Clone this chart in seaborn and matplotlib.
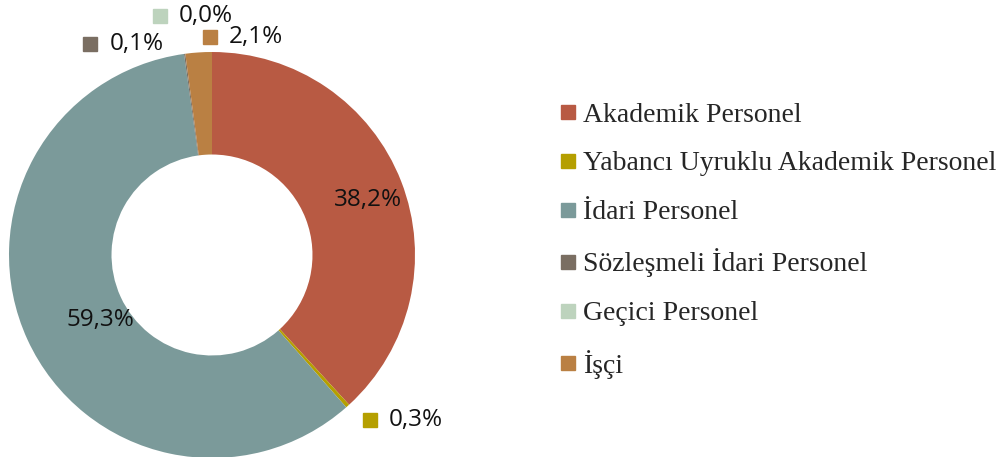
import numpy as np
import matplotlib.pyplot as plt
import seaborn as sns
from matplotlib.lines import Line2D

categories = ['Akademik Personel', 'Yabancı Uyruklu Akademik Personel', 'İdari Personel',
              'Sözleşmeli İdari Personel', 'Geçici Personel', 'İşçi']
values = [38.2, 0.3, 59.3, 0.1, 0.0, 2.1]
colors = ['#B85A43', '#B59F00', '#7B9A9A', '#7A6E62', '#BDD3BD', '#BA8043']

sns.set_theme(style='white')
plt.rcParams['font.family'] = ['Open Sans', 'DejaVu Sans']

fig = plt.figure(figsize=(10.02, 4.57), dpi=100)
# square axes in pixels so the donut is round
ax = fig.add_axes([9 / 1002, -1 / 457, 406 / 1002, 406 / 457])

wedges, _ = ax.pie(values, colors=colors, startangle=90, counterclock=False,
                   radius=1.0, wedgeprops=dict(width=0.505, linewidth=0))
ax.set_xlim(-1, 1)
ax.set_ylim(-1, 1)
ax.set_aspect('equal')
ax.axis('off')

def fmt(v):
    return f'{v:.1f}%'.replace('.', ',')

# label positions (axes coords), outside labels get a colour key
label_pos = [(0.884, 0.635, False), (0.889, 0.094, True), (0.224, 0.34, False),
             (0.200, 1.020, True), (0.372, 1.089, True), (0.495, 1.037, True)]
for v, c, (x, y, key) in zip(values, colors, label_pos):
    if key:
        ax.plot(x, y, marker='s', ms=10, color=c, transform=ax.transAxes,
                clip_on=False, ls='none')
        ax.text(x + 0.047, y, fmt(v), transform=ax.transAxes, ha='left',
                va='center', fontsize=17.5, color='#111111')
    else:
        ax.text(x, y, fmt(v), transform=ax.transAxes, ha='center',
                va='center', fontsize=17.5, color='#111111')

handles = [Line2D([], [], marker='s', ls='none', ms=10.5, color=c) for c in colors]
fig.legend(handles, categories, loc='center left', bbox_to_anchor=(0.56, 0.474),
           frameon=False, borderpad=0, borderaxespad=0, handlelength=0.5,
           handletextpad=0.29, labelspacing=0.84,
           prop={'family': ['Liberation Serif', 'DejaVu Serif'], 'size': 20})

fig.savefig('out.png', dpi=100)
